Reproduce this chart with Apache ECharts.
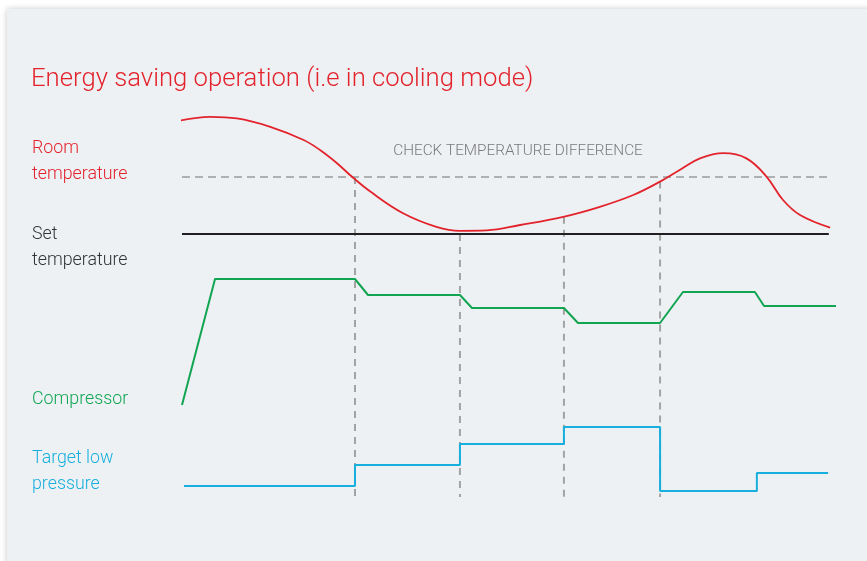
<!DOCTYPE html>
<html><head><meta charset="utf-8">
<script src="https://cdn.jsdelivr.net/npm/echarts@6/dist/echarts.min.js"></script>
<style>html,body{margin:0;padding:0;background:#fff}#c{width:867px;height:561px}</style>
</head><body><div id="c"></div>
<script>
// time (0..100) vs signal level (0..100)
const roomTemp = [[-0.4,94.8],[4.3,95.8],[8.4,95.4],[13.5,93.3],[18.6,90.0],[21.1,87.5],[23.7,84.2],[26.0,80.8],[28.8,77.1],[33.8,71.7],[38.9,68.3],[42.5,67.3],[46.6,67.4],[51.7,68.75],[58.3,70.8],[63.9,73.3],[69.0,76.25],[73.1,79.6],[76.1,82.5],[79.2,85.4],[82.8,86.7],[86.3,85.4],[89.4,80.8],[91.9,75.0],[94.5,71.25],[99.1,68.1]];
const setTemp = [[0,66.5],[98.9,66.5]];
const threshold = [[0,80.75],[98.9,80.75]];
const compressor = [[0,23.75],[5.05,55.25],[26.45,55.25],[28.44,51.25],[42.5,51.25],[44.34,48],[58.4,48],[60.55,44.25],[73.1,44.25],[76.6,52],[87.6,52],[89.0,48.5],[100,48.5]];
const targetLowPressure = [[0.3,3.5],[26.45,8.75],[42.5,14],[58.4,18.25],[73.1,2.25],[87.9,6.75],[98.8,6.75]];
const checkTimes = [26.45,42.5,58.4,73.1];
const checkTops = [80.75,66.5,70.8,79.6];
const checkBottom = 0.75;
const labels = {
  title: 'Energy saving operation (i.e in cooling mode)',
  room: 'Room\ntemperature',
  set: 'Set\ntemperature',
  comp: 'Compressor',
  tlp: 'Target low\npressure',
  check: 'CHECK TEMPERATURE DIFFERENCE'
};

const RED='#e3232c', GREEN='#11a552', BLUE='#17afdd', GRAY='#9a9a9a';
const chart = echarts.init(document.getElementById('c'));
const series = [];
checkTimes.forEach((t,i)=>{
  series.push({type:'line',data:[[t,checkTops[i]],[t,checkBottom]],symbol:'none',clip:false,
    lineStyle:{color:'#a3a3a3',width:2,type:[7,6]},z:1});
});
series.push({type:'line',data:threshold,symbol:'none',clip:false,lineStyle:{color:GRAY,width:1.5,type:[8,5]},z:1});
series.push({type:'line',data:setTemp,symbol:'none',clip:false,lineStyle:{color:'#231f20',width:2},z:2});
series.push({type:'line',data:roomTemp,symbol:'none',smooth:0.4,clip:false,lineStyle:{color:RED,width:1.8},z:3});
series.push({type:'line',data:compressor,symbol:'none',clip:false,lineStyle:{color:GREEN,width:2},z:3});
series.push({type:'line',data:targetLowPressure,step:'end',symbol:'none',clip:false,lineStyle:{color:BLUE,width:2},z:3});

const FONT = 'Roboto, "Liberation Sans", sans-serif';
chart.setOption({
  animation:false,
  backgroundColor:'#ffffff',
  grid:{left:182,right:31,top:100,bottom:61},
  xAxis:{type:'value',min:0,max:100,show:false},
  yAxis:{type:'value',min:0,max:100,show:false},
  graphic:[
    {type:'rect',shape:{x:7,y:9,width:900,height:600},style:{fill:'#eef1f4',shadowBlur:6,shadowColor:'rgba(0,0,0,0.22)'},z:0},
    {type:'text',x:31,y:80,z:10,style:{text:labels.title,fill:RED,font:'300 25.7px '+FONT,textVerticalAlign:'middle'}},
    {type:'text',x:32,y:162,z:10,style:{text:labels.room,fill:RED,font:'300 17.8px '+FONT,lineHeight:26,textVerticalAlign:'middle'}},
    {type:'text',x:32,y:248,z:10,style:{text:labels.set,fill:'#333333',font:'300 17.8px '+FONT,lineHeight:26,textVerticalAlign:'middle'}},
    {type:'text',x:32,y:400,z:10,style:{text:labels.comp,fill:GREEN,font:'300 17.8px '+FONT,textVerticalAlign:'middle'}},
    {type:'text',x:32,y:472,z:10,style:{text:labels.tlp,fill:BLUE,font:'300 17.8px '+FONT,lineHeight:26,textVerticalAlign:'middle'}},
    {type:'text',x:518,y:151,z:10,style:{text:labels.check,fill:'#7a7a7a',font:'300 15.3px '+FONT,textAlign:'center',textVerticalAlign:'middle'}}
  ],
  series:series
});
</script></body></html>
